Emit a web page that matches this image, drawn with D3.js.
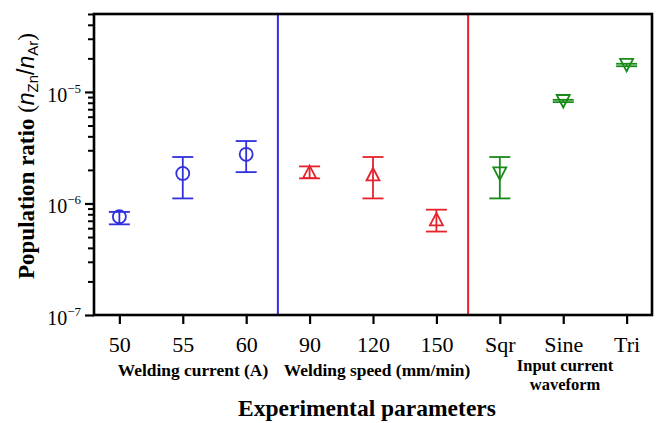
<!DOCTYPE html>
<html>
<head>
<meta charset="utf-8">
<script src="https://cdn.jsdelivr.net/npm/d3@7/dist/d3.min.js"></script>
<style>
  html, body { margin: 0; padding: 0; background: #fff; }
  svg { display: block; }
  text { font-family: "Liberation Serif", "Times New Roman", serif; fill: #000; }
</style>
</head>
<body>
<svg id="chart" width="656" height="423"></svg>
<script>
// ---- data ----
const tickLabels = ["50", "55", "60", "90", "120", "150", "Sqr", "Sine", "Tri"];
const groupNames = ["Welding current (A)", "Welding speed (mm/min)", "Input current waveform"];
const groupOf    = [0, 0, 0, 1, 1, 1, 2, 2, 2];
const values     = [7.6e-7, 1.86e-6, 2.76e-6, 1.91e-6, 1.82e-6, 7.2e-7, 1.86e-6, 8.3e-6, 1.75e-5];
const errLow     = [6.5e-7, 1.11e-6, 1.91e-6, 1.68e-6, 1.11e-6, 5.6e-7, 1.11e-6, 8.1e-6, 1.70e-5];
const errHigh    = [8.4e-7, 2.61e-6, 3.63e-6, 2.15e-6, 2.61e-6, 8.8e-7, 2.61e-6, 8.5e-6, 1.79e-5];
const yMajor     = [1e-7, 1e-6, 1e-5];
const yExp       = ["\u22127", "\u22126", "\u22125"];
const separators = [3.5, 6.5];

// ---- styles ----
const colors  = ["#3030dc", "#e6222c", "#178a17"];
const markers = ["circle", "up", "down"];

const svg = d3.select("#chart");
const L = 94, R = 652, T = 14, B = 315;

const x = d3.scaleLinear().domain([0.6, 9.4]).range([L, R]);
const y = d3.scaleLog().domain([1e-7, 5e-5]).range([B, T]);

// minor ticks
const minor = [];
for (let e = -7; e <= -5; e++) {
  for (let m = 2; m <= 9; m++) {
    const v = m * Math.pow(10, e);
    if (v <= 5e-5) minor.push(v);
  }
}

// y axis minor ticks
svg.append("g")
  .attr("transform", `translate(${L},0)`)
  .call(d3.axisLeft(y).tickValues(minor).tickSize(6).tickFormat(""))
  .call(g => g.select(".domain").remove())
  .call(g => g.selectAll("line").attr("stroke", "#000").attr("stroke-width", 2));

// y axis major ticks
svg.append("g")
  .attr("transform", `translate(${L},0)`)
  .call(d3.axisLeft(y).tickValues(yMajor).tickSize(9).tickFormat(""))
  .call(g => g.select(".domain").remove())
  .call(g => g.selectAll("line").attr("stroke", "#000").attr("stroke-width", 2.2));

// y tick labels as 10^n
yMajor.forEach((v, i) => {
  const t = svg.append("text")
    .attr("x", 81)
    .attr("y", y(v) + 10)
    .attr("text-anchor", "end")
    .style("font-size", "20px");
  t.append("tspan").text("10");
  t.append("tspan").attr("dy", -9).style("font-size", "13px").text(yExp[i]);
});

// x axis ticks
svg.append("g")
  .attr("transform", `translate(0,${B})`)
  .call(d3.axisBottom(x).tickValues(d3.range(1, 10)).tickSize(9).tickPadding(12)
        .tickFormat((d, i) => tickLabels[i]))
  .call(g => g.select(".domain").remove())
  .call(g => g.selectAll("line").attr("stroke", "#000").attr("stroke-width", 2.2))
  .call(g => g.selectAll("text").style("font-size", "22px")
        .style("font-family", "'Liberation Serif', serif").attr("fill", "#000"));

// group separators
separators.forEach((s, i) => {
  svg.append("line")
    .attr("x1", x(s)).attr("x2", x(s))
    .attr("y1", T).attr("y2", B)
    .attr("stroke", colors[i]).attr("stroke-width", 2);
});

// frame
svg.append("rect")
  .attr("x", L).attr("y", T).attr("width", R - L).attr("height", B - T)
  .attr("fill", "none").attr("stroke", "#000").attr("stroke-width", 2.6);

// error bars + markers
const pts = svg.append("g");
values.forEach((v, i) => {
  const cx = x(i + 1), cy = y(v);
  const c = colors[groupOf[i]];
  const g = pts.append("g").attr("stroke", c).attr("stroke-width", 1.8).attr("fill", "none");
  g.append("line").attr("x1", cx).attr("x2", cx).attr("y1", y(errHigh[i])).attr("y2", y(errLow[i]));
  [errHigh[i], errLow[i]].forEach(e => {
    g.append("line").attr("x1", cx - 10.5).attr("x2", cx + 10.5).attr("y1", y(e)).attr("y2", y(e));
  });
  const m = markers[groupOf[i]];
  if (m === "circle") {
    g.append("circle").attr("cx", cx).attr("cy", cy).attr("r", 6.5);
  } else if (m === "up") {
    g.append("path").attr("d", `M${cx},${cy - 6.5} L${cx + 6.5},${cy + 6} L${cx - 6.5},${cy + 6} Z`);
  } else {
    g.append("path").attr("d", `M${cx},${cy + 6.5} L${cx + 6.5},${cy - 6} L${cx - 6.5},${cy - 6} Z`);
  }
});

// group labels
const gl = svg.append("g").style("font-weight", "bold").style("font-size", "17.4px")
  .attr("text-anchor", "middle");
gl.append("text").attr("x", 193).attr("y", 376).text(groupNames[0]);
gl.append("text").attr("x", 377).attr("y", 376).text(groupNames[1]);
gl.append("text").attr("x", 565).attr("y", 371).style("font-size", "16.5px").text("Input current");
gl.append("text").attr("x", 565).attr("y", 390).style("font-size", "16.5px").text("waveform");

// x title
svg.append("text").attr("x", 367).attr("y", 416).attr("text-anchor", "middle")
  .style("font-weight", "bold").style("font-size", "23.5px").text("Experimental parameters");

// y title
const sans = "'Liberation Sans', Arial, sans-serif";
const yt = svg.append("text")
  .attr("transform", "translate(34,156) rotate(-90)")
  .attr("text-anchor", "middle")
  .style("font-size", "23px");
yt.append("tspan").style("font-weight", "bold").text("Population ratio ");
yt.append("tspan").text("(");
yt.append("tspan").style("font-family", sans).style("font-style", "italic").text("n");
yt.append("tspan").style("font-family", sans).style("font-size", "15px").attr("dy", 4).text("Zn");
yt.append("tspan").style("font-family", sans).attr("dy", -4).text("/");
yt.append("tspan").style("font-family", sans).style("font-style", "italic").text("n");
yt.append("tspan").style("font-family", sans).style("font-size", "15px").attr("dy", 4).text("Ar");
yt.append("tspan").attr("dy", -4).text(")");
</script>
</body>
</html>
